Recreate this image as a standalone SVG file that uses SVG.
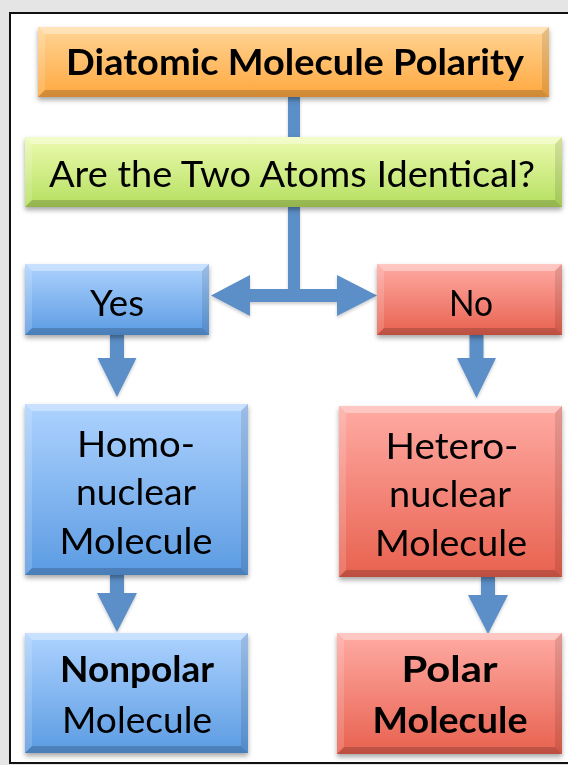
<svg xmlns="http://www.w3.org/2000/svg" width="568" height="765" viewBox="0 0 568 765">
<defs>
<style>
.t{font-family:Lato,"Open Sans","Liberation Sans",sans-serif;font-size:36px;fill:#000;text-anchor:middle}
.b{font-weight:bold}
.bvT{fill:#fff;fill-opacity:.35}
.bvL{fill:#fff;fill-opacity:.15}
.bvR{fill:#000;fill-opacity:.10}
.bvB{fill:#000;fill-opacity:.18}
.arr{fill:#5b8fc7}
</style>
<linearGradient id="gO" x1="0" y1="0" x2="0" y2="1"><stop offset="0" stop-color="#ffd596"/><stop offset="1" stop-color="#ffa83f"/></linearGradient>
<linearGradient id="gG" x1="0" y1="0" x2="0" y2="1"><stop offset="0" stop-color="#ecfbb0"/><stop offset="1" stop-color="#b5df5f"/></linearGradient>
<linearGradient id="gB" x1="0" y1="0" x2="0" y2="1"><stop offset="0" stop-color="#aed3ff"/><stop offset="1" stop-color="#5b9be2"/></linearGradient>
<linearGradient id="gR" x1="0" y1="0" x2="0" y2="1"><stop offset="0" stop-color="#ffaba4"/><stop offset="1" stop-color="#e8614f"/></linearGradient>
<filter id="sh" x="-10%" y="-10%" width="120%" height="130%"><feDropShadow dx="0" dy="3" stdDeviation="2.5" flood-color="#000" flood-opacity="0.35"/></filter>
<filter id="sh2" x="-20%" y="-20%" width="140%" height="140%"><feDropShadow dx="0" dy="2" stdDeviation="1.5" flood-color="#000" flood-opacity="0.2"/></filter>
</defs>
<rect x="0" y="0" width="568" height="765" fill="#e5e5e5"/>
<rect x="10" y="13" width="570" height="750" fill="#fff" stroke="#111" stroke-width="2"/>

<g id="connectors" filter="url(#sh2)">
<rect class="arr" x="288" y="97" width="12" height="40"/>
<path class="arr" d="M288,207 H300 V289 H337 V275 L377,295.5 L337,316 V302 H250 V316 L211,295.5 L250,275 V289 H288 Z"/>
<path class="arr" d="M110,335 H124 V358 H136.5 L117,397 L97.5,358 H110 Z"/>
<path class="arr" d="M469.5,335 H483.5 V358 H496 L476.5,398 L457,358 H469.5 Z"/>
<path class="arr" d="M110,575 H124 V593 H137 L117,632 L97,593 H110 Z"/>
<path class="arr" d="M481,577 H495 V595 H508 L488,634 L468,595 H481 Z"/>
</g>

<g id="title" filter="url(#sh)">
<rect x="38" y="27" width="511" height="70" fill="url(#gO)"/>
<polygon class="bvT" points="38,27 549,27 542,34 45,34"/>
<polygon class="bvL" points="38,27 45,34 45,90 38,97"/>
<polygon class="bvR" points="549,27 542,34 542,90 549,97"/>
<polygon class="bvB" points="38,97 45,90 542,90 549,97"/>
<text class="t b" x="295" y="75" textLength="458" lengthAdjust="spacingAndGlyphs">Diatomic Molecule Polarity</text>
</g>

<g id="question" filter="url(#sh)">
<rect x="25" y="137" width="537" height="70" fill="url(#gG)"/>
<polygon class="bvT" points="25,137 562,137 555,144 32,144"/>
<polygon class="bvL" points="25,137 32,144 32,200 25,207"/>
<polygon class="bvR" points="562,137 555,144 555,200 562,207"/>
<polygon class="bvB" points="25,207 32,200 555,200 562,207"/>
<text class="t" x="292" y="187" textLength="486" lengthAdjust="spacingAndGlyphs">Are the Two Atoms Identical?</text>
</g>

<g id="yes" filter="url(#sh)">
<rect x="25" y="264" width="184" height="71" fill="url(#gB)"/>
<polygon class="bvT" points="25,264 209,264 202,271 32,271"/>
<polygon class="bvL" points="25,264 32,271 32,328 25,335"/>
<polygon class="bvR" points="209,264 202,271 202,328 209,335"/>
<polygon class="bvB" points="25,335 32,328 202,328 209,335"/>
<text class="t" x="117" y="316" textLength="54" lengthAdjust="spacingAndGlyphs">Yes</text>
</g>

<g id="no" filter="url(#sh)">
<rect x="377" y="264" width="185" height="71" fill="url(#gR)"/>
<polygon class="bvT" points="377,264 562,264 555,271 384,271"/>
<polygon class="bvL" points="377,264 384,271 384,328 377,335"/>
<polygon class="bvR" points="562,264 555,271 555,328 562,335"/>
<polygon class="bvB" points="377,335 384,328 555,328 562,335"/>
<text class="t" x="471" y="316" textLength="44" lengthAdjust="spacingAndGlyphs">No</text>
</g>

<g id="homonuclear" filter="url(#sh)">
<rect x="25" y="404" width="223" height="171" fill="url(#gB)"/>
<polygon class="bvT" points="25,404 248,404 241,411 32,411"/>
<polygon class="bvL" points="25,404 32,411 32,568 25,575"/>
<polygon class="bvR" points="248,404 241,411 241,568 248,575"/>
<polygon class="bvB" points="25,575 32,568 241,568 248,575"/>
<text class="t" x="136" y="457" textLength="118" lengthAdjust="spacingAndGlyphs">Homo-</text>
<text class="t" x="136" y="505" textLength="120" lengthAdjust="spacingAndGlyphs">nuclear</text>
<text class="t" x="136" y="554" textLength="153" lengthAdjust="spacingAndGlyphs">Molecule</text>
</g>

<g id="heteronuclear" filter="url(#sh)">
<rect x="339" y="406" width="223" height="171" fill="url(#gR)"/>
<polygon class="bvT" points="339,406 562,406 555,413 346,413"/>
<polygon class="bvL" points="339,406 346,413 346,570 339,577"/>
<polygon class="bvR" points="562,406 555,413 555,570 562,577"/>
<polygon class="bvB" points="339,577 346,570 555,570 562,577"/>
<text class="t" x="452" y="459" textLength="133" lengthAdjust="spacingAndGlyphs">Hetero-</text>
<text class="t" x="450" y="507" textLength="122" lengthAdjust="spacingAndGlyphs">nuclear</text>
<text class="t" x="451" y="556" textLength="152" lengthAdjust="spacingAndGlyphs">Molecule</text>
</g>

<g id="nonpolar" filter="url(#sh)">
<rect x="25" y="633" width="223" height="120" fill="url(#gB)"/>
<polygon class="bvT" points="25,633 248,633 241,640 32,640"/>
<polygon class="bvL" points="25,633 32,640 32,746 25,753"/>
<polygon class="bvR" points="248,633 241,640 241,746 248,753"/>
<polygon class="bvB" points="25,753 32,746 241,746 248,753"/>
<text class="t b" x="137" y="682" textLength="154" lengthAdjust="spacingAndGlyphs">Nonpolar</text>
<text class="t" x="137" y="733" textLength="150" lengthAdjust="spacingAndGlyphs">Molecule</text>
</g>

<g id="polar" filter="url(#sh)">
<rect x="337" y="633" width="225" height="121" fill="url(#gR)"/>
<polygon class="bvT" points="337,633 562,633 555,640 344,640"/>
<polygon class="bvL" points="337,633 344,640 344,747 337,754"/>
<polygon class="bvR" points="562,633 555,640 555,747 562,754"/>
<polygon class="bvB" points="337,754 344,747 555,747 562,754"/>
<text class="t b" x="449.5" y="682" textLength="96" lengthAdjust="spacingAndGlyphs">Polar</text>
<text class="t b" x="450" y="733" textLength="155" lengthAdjust="spacingAndGlyphs">Molecule</text>
</g>
</svg>
